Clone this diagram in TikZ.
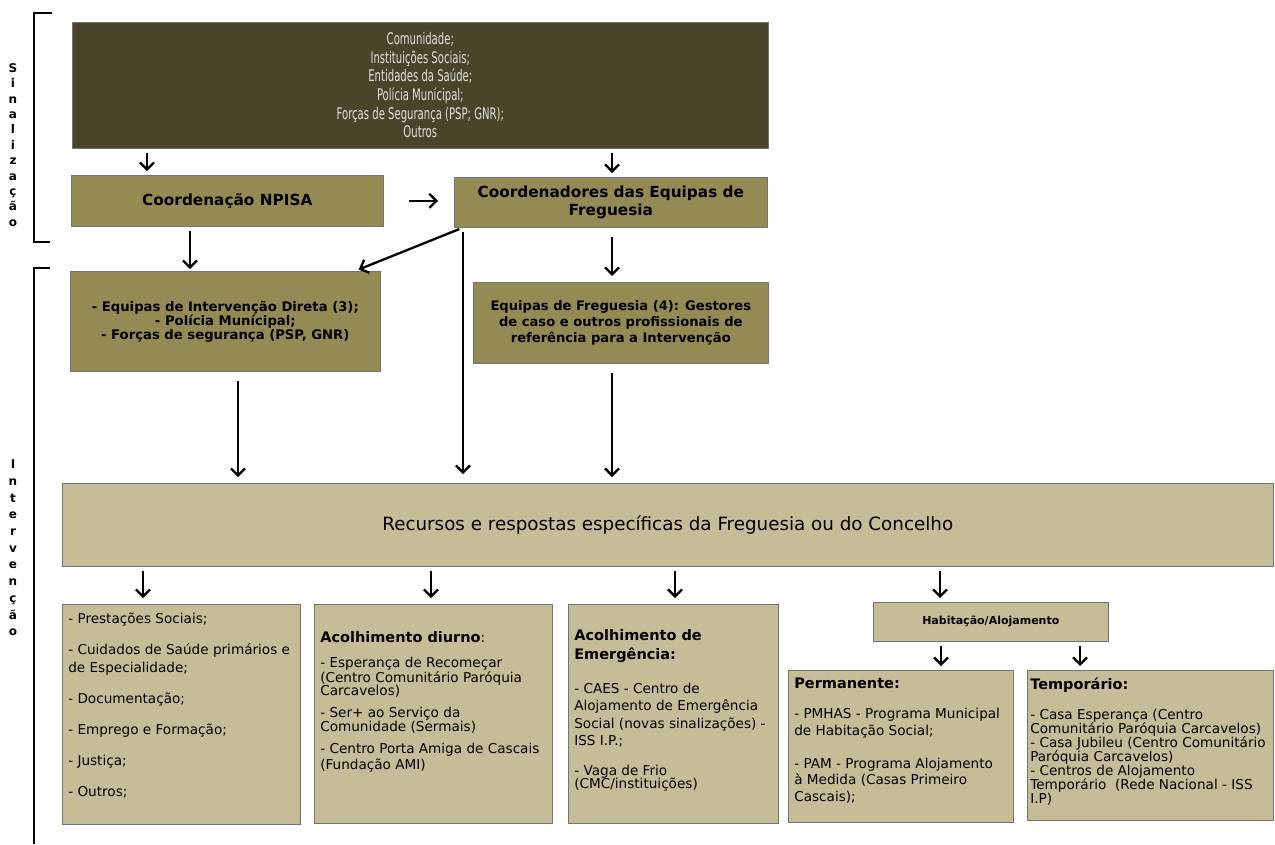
\documentclass[tikz,border=0pt]{standalone}
\usepackage{fontspec}
\setmainfont{DejaVu Sans}
\newfontfamily\narrowfont[FakeStretch=0.63]{DejaVu Sans}
\usetikzlibrary{arrows.meta, calc}

\definecolor{tandark}{HTML}{4A452A}
\definecolor{tanmid}{HTML}{948A54}
\definecolor{tanlight}{HTML}{C4BD97}

\newcommand{\listtext}[3]{\parbox[c][#1][t]{#2}{\raggedright #3}}
\newcommand{\listhead}{\bfseries\fontsize{14.5}{14.5}\selectfont}

\begin{document}
\begin{tikzpicture}[x=1pt, y=-1pt,
    box/.style={draw=black!55, line width=0.6pt, anchor=north west, inner sep=4pt, align=center},
    darkbox/.style={box, fill=tandark, text=white!88!black, font=\narrowfont\fontsize{16}{18.6}\selectfont},
    midbox/.style={box, fill=tanmid},
    lightbox/.style={box, fill=tanlight},
    listbox/.style={lightbox, inner xsep=6pt, inner ysep=0pt, align=left},
    arr/.style={line width=2.3pt, -{Straight Barb[length=7pt,width=14pt]}, shorten <=4pt, shorten >=4pt},
    sidelabel/.style={inner sep=0pt, align=center},
    bracket/.style={line width=2.5pt}
  ]
    \useasboundingbox (0,0) rectangle (1275,844);

    % brackets and side labels
    \draw[bracket] (52,13) -- (34,13) -- (34,242) -- (50,242);
    \draw[bracket] (50,268) -- (34,268) -- (34,844);
    \node[sidelabel, font=\bfseries\fontsize{12}{15.4}\selectfont] (sin) at (13,145) {S\\i\\n\\a\\l\\i\\z\\a\\ç\\ã\\o};
    \node[sidelabel, font=\bfseries\fontsize{12}{16.7}\selectfont] (int) at (13,548) {I\\n\\t\\e\\r\\v\\e\\n\\ç\\ã\\o};

    % signalling
    \node[darkbox, minimum width=696pt, minimum height=126pt] (top) at (72,22)
      {Comunidade;\\Instituições Sociais;\\Entidades da Saúde;\\Polícia Munícipal;\\Forças de Segurança (PSP; GNR);\\Outros};
    \node[midbox, font=\bfseries\fontsize{15.3}{18}\selectfont, minimum width=312pt, minimum height=51pt] (npisa) at (71,175)
      {Coordenação NPISA};
    \node[midbox, font=\bfseries\fontsize{15.3}{18}\selectfont, minimum width=313pt, minimum height=50pt] (coord) at (454,177)
      {Coordenadores das Equipas de\\Freguesia};

    % intervention
    \node[midbox, font=\bfseries\fontsize{13.2}{14}\selectfont, minimum width=310pt, minimum height=100pt] (eid) at (70,271)
      {- Equipas de Intervenção Direta (3);\\- Polícia Munícipal;\\- Forças de segurança (PSP, GNR)};
    \node[midbox, font=\bfseries\fontsize{13.1}{16}\selectfont, minimum width=295pt, minimum height=81pt] (eqf) at (473,282)
      {Equipas de Freguesia (4): Gestores\\de caso e outros profissionais de\\referência para a Intervenção};
    \node[lightbox, font=\fontsize{18.3}{20}\selectfont, minimum width=1211pt, minimum height=83pt] (rec) at (62,483)
      {Recursos e respostas específicas da Freguesia ou do Concelho};

    \node[listbox, font=\fontsize{13.6}{17.5}\selectfont] (b1) at (62,604)
      {\listtext{220pt}{226pt}{\vspace*{9pt}- Prestações Sociais;\\[13.5pt]
        - Cuidados de Saúde primários e\\de Especialidade;\\[13.5pt]
        - Documentação;\\[13.5pt]
        - Emprego e Formação;\\[13.5pt]
        - Justiça;\\[13.5pt]
        - Outros;}};
    \node[listbox, font=\fontsize{13.6}{13.5}\selectfont] (b2) at (314,604)
      {\listtext{219pt}{226pt}{\vspace*{27pt}{\listhead Acolhimento diurno}:\\[11.5pt]
        - Esperança de Recomeçar\\(Centro Comunitário Paróquia\\Carcavelos)\\[8.5pt]
        - Ser+ ao Serviço da\\Comunidade (Sermais)\\[8.5pt]
        - Centro Porta Amiga de Cascais\\[2.5pt](Fundação AMI)}};
    \node[listbox, font=\fontsize{13.6}{17.5}\selectfont] (b3) at (568,604)
      {\listtext{219pt}{198pt}{\vspace*{25pt}{\listhead Acolhimento de}\\[1.5pt]
        {\listhead Emergência:}\\[16.5pt]
        - CAES - Centro de\\Alojamento de Emergência\\Social (novas sinalizações) -\\ISS I.P.;\\[12.5pt]
        - Vaga de Frio\\[-4.5pt](CMC/instituições)}};

    \node[lightbox, font=\bfseries\fontsize{11}{13}\selectfont, minimum width=235pt, minimum height=39pt] (hab) at (873,602)
      {Habitação/Alojamento};
    \node[listbox, font=\fontsize{13.6}{16.5}\selectfont] (perm) at (788,670)
      {\listtext{152pt}{213pt}{\vspace*{8pt}{\listhead Permanente:}\\[13.5pt]
        - PMHAS - Programa Municipal\\de Habitação Social;\\[16.5pt]
        - PAM - Programa Alojamento\\à Medida (Casas Primeiro\\Cascais);}};
    \node[listbox, inner xsep=3pt, font=\fontsize{13.6}{14}\selectfont] (temp) at (1027,670)
      {\listtext{150pt}{240pt}{\vspace*{8pt}{\listhead Temporário:}\\[16pt]
        - Casa Esperança (Centro\\Comunitário Paróquia Carcavelos)\\
        - Casa Jubileu (Centro Comunitário\\Paróquia Carcavelos)\\
        - Centros de Alojamento\\Temporário~ (Rede Nacional - ISS\\I.P)}};

    % connectors
    \draw[arr] ([xshift=75pt]top.south west) -- ([xshift=76pt]npisa.north west);
    \draw[arr] ([xshift=540pt]top.south west) -- ([xshift=158pt]coord.north west);
    \draw[arr, shorten <=25pt, shorten >=16pt] (npisa.east) -- (npisa.east -| coord.west);
    \draw[arr, shorten >=2pt] ([xshift=119pt]npisa.south west) -- ([xshift=120pt]eid.north west);
    \draw[arr] ([xshift=9pt]coord.south west) -- ([xshift=285pt]eid.north west);
    \draw[arr, shorten >=9pt] ([xshift=9pt]coord.south west) -- ([xshift=401pt]rec.north west);
    \draw[arr, shorten <=9pt, shorten >=6pt] ([xshift=158pt]coord.south west) -- ([xshift=139pt]eqf.north west);
    \draw[arr, shorten <=9pt, shorten >=6pt] ([xshift=168pt]eid.south west) -- ([xshift=176pt]rec.north west);
    \draw[arr, shorten <=9pt, shorten >=6pt] ([xshift=139pt]eqf.south west) -- ([xshift=550pt]rec.north west);
    \draw[arr, shorten >=6pt] ([xshift=81pt]rec.south west) -- ([xshift=81pt]b1.north west);
    \draw[arr, shorten >=6pt] ([xshift=369pt]rec.south west) -- ([xshift=117pt]b2.north west);
    \draw[arr, shorten >=6pt] ([xshift=613pt]rec.south west) -- ([xshift=107pt]b3.north west);
    \draw[arr] ([xshift=878pt]rec.south west) -- ([xshift=67pt]hab.north west);
    \draw[arr] ([xshift=68pt]hab.south west) -- ([xshift=153pt]perm.north west);
    \draw[arr] ([xshift=207pt]hab.south west) -- ([xshift=53pt]temp.north west);
  \end{tikzpicture}
\end{document}
